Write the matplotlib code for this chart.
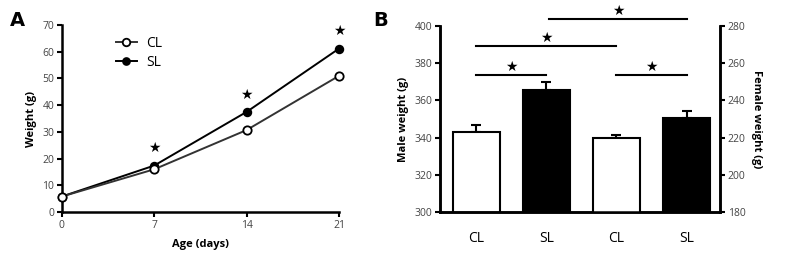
import numpy as np
import matplotlib.pyplot as plt

# panel A data
days = [0, 7, 14, 21]
cl_weight = [5.8, 16.0, 30.7, 51.0]
sl_weight = [5.8, 17.4, 37.5, 61.2]
star_days = [7, 14, 21]

# panel B data
groups = ["CL", "SL", "CL", "SL"]
male_mean = [343, 365.6]
male_err = [3.5, 4.5]
female_mean = [219.6, 230.4]
female_err = [1.5, 4.0]
# significance bars: (start, end, height on male axis)
sig_pairs = [(0, 1, 373.7), (0, 2, 389.0), (1.04, 3, 403.6), (2, 3, 373.7)]

plt.rcParams['font.family'] = ['Open Sans', 'DejaVu Sans']

fig = plt.figure(figsize=(7.94, 2.64), dpi=100)

# ---- panel A
ax1 = fig.add_axes([0.078, 0.197, 0.349, 0.708])
ax1.plot(days, sl_weight, '-o', color='black', lw=1.4, ms=5.5, mfc='black', mew=1.3,
         label='SL', clip_on=False, zorder=3)
ax1.plot(days, cl_weight, '-o', color='#333333', lw=1.4, ms=6, mfc='white', mec='black',
         mew=1.3, label='CL', clip_on=False, zorder=4)
for d in star_days:
    y = sl_weight[days.index(d)]
    ax1.text(d, y + 6.5, '\u2605', ha='center', va='center', fontsize=10, family='DejaVu Sans')
ax1.set_xlim(0, 21)
ax1.set_ylim(0, 70)
ax1.set_xticks(days)
ax1.set_yticks(np.arange(0, 71, 10))
ax1.set_xlabel('Age (days)', fontsize=8, fontweight='bold', labelpad=6)
ax1.set_ylabel('Weight (g)', fontsize=8, fontweight='bold', labelpad=4)
h, l = ax1.get_legend_handles_labels()
ax1.legend(h[::-1], l[::-1], loc='upper left', bbox_to_anchor=(0.15, 1.01), frameon=False,
           fontsize=10, handlelength=1.5, handletextpad=0.7, labelspacing=0.3, markerscale=0.9)
for s in ['top', 'right']:
    ax1.spines[s].set_visible(False)
for s in ['left', 'bottom']:
    ax1.spines[s].set_linewidth(1.8)
ax1.tick_params(labelsize=7.5, width=1.5, length=3.5, pad=2, colors='black')
ax1.tick_params(labelcolor='#444444')
fig.text(0.012, 0.96, 'A', fontsize=14, fontweight='bold', va='top', family='DejaVu Sans')

# ---- panel B
ax2 = fig.add_axes([0.554, 0.197, 0.353, 0.705])
ax3 = ax2.twinx()
x = np.arange(4)
w = 0.67
ax2.bar(x[:2], male_mean, w, color=['white', 'black'], edgecolor='black', lw=1.5, zorder=2)
ax2.errorbar(x[:2], male_mean, yerr=[[0, 0], male_err], fmt='none', ecolor='black',
             elinewidth=1.5, capsize=3.5, capthick=1.5, zorder=1)
ax3.bar(x[2:], female_mean, w, color=['white', 'black'], edgecolor='black', lw=1.5, zorder=2)
ax3.errorbar(x[2:], female_mean, yerr=[[0, 0], female_err], fmt='none', ecolor='black',
             elinewidth=1.5, capsize=3.5, capthick=1.5, zorder=1)
ax2.set_xlim(-0.52, 3.48)
ax2.set_ylim(300, 400)
ax3.set_ylim(180, 280)
ax2.set_yticks(np.arange(300, 401, 20))
ax3.set_yticks(np.arange(180, 281, 20))
ax2.set_xticks(x)
ax2.set_xticklabels(groups, fontsize=10)
ax2.tick_params(axis='x', length=0, pad=14)
ax2.tick_params(axis='y', labelsize=7.5, width=1.5, length=3.5, pad=2, labelcolor='#444444')
ax3.tick_params(axis='y', labelsize=7.5, width=1.5, length=3.5, pad=2, labelcolor='#444444')
ax2.set_ylabel('Male weight (g)', fontsize=8, fontweight='bold', labelpad=4)
ax3.set_ylabel('Female weight (g)', fontsize=8, fontweight='bold', rotation=270, labelpad=12)
for a in (ax2, ax3):
    a.spines['top'].set_visible(False)
    for s in ['left', 'right', 'bottom']:
        a.spines[s].set_linewidth(1.8)
for x0, x1, yy in sig_pairs:
    ax2.plot([x0, x1], [yy, yy], color='black', lw=1.5, clip_on=False)
    ax2.text((x0 + x1) / 2, yy + 4.5, '\u2605', ha='center', va='center', fontsize=10,
             family='DejaVu Sans', clip_on=False)
fig.text(0.470, 0.96, 'B', fontsize=14, fontweight='bold', va='top', family='DejaVu Sans')

fig.savefig('out.png', dpi=100)
